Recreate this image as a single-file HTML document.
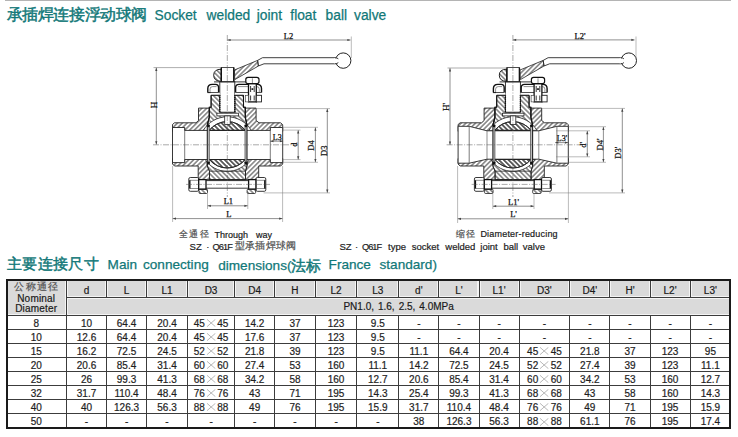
<!DOCTYPE html>
<html><head><meta charset="utf-8">
<style>
html,body{margin:0;padding:0;background:#fff;}
body{width:738px;height:437px;position:relative;overflow:hidden;font-family:"Liberation Sans",sans-serif;}
.a{position:absolute;}
.t{position:absolute;white-space:nowrap;line-height:1;}
.ln{position:absolute;background:#3c3c3c;}
.c{position:absolute;text-align:center;font-size:10px;line-height:14px;color:#1e1e1e;white-space:nowrap;-webkit-text-stroke:0.2px #1e1e1e;}
.h{position:absolute;text-align:center;font-size:10px;color:#1a1a1a;white-space:nowrap;-webkit-text-stroke:0.2px #1a1a1a;}
svg{position:absolute;left:0;top:0;}
svg.x{position:static;display:inline-block;vertical-align:-0.5px;}
</style></head><body>

<div class="a" style="left:5px;top:0;width:726px;height:1px;background:#b4b4b4"></div>
<div class="t" style="left:6.5px;top:7px;font-size:15.6px;letter-spacing:-0.4px;-webkit-text-stroke:0.45px #117878;color:#117878;">承插焊连接浮动球阀</div>
<div class="t" style="left:154.5px;top:9px;font-size:13.8px;color:#117878;-webkit-text-stroke:0.25px #117878;">Socket</div>
<div class="t" style="left:206.5px;top:9px;font-size:13.8px;color:#117878;-webkit-text-stroke:0.25px #117878;">welded</div>
<div class="t" style="left:256.7px;top:9px;font-size:13.8px;color:#117878;-webkit-text-stroke:0.25px #117878;">joint</div>
<div class="t" style="left:290.3px;top:9px;font-size:13.8px;color:#117878;-webkit-text-stroke:0.25px #117878;">float</div>
<div class="t" style="left:325.6px;top:9px;font-size:13.8px;color:#117878;-webkit-text-stroke:0.25px #117878;">ball</div>
<div class="t" style="left:354px;top:9px;font-size:13.8px;color:#117878;-webkit-text-stroke:0.25px #117878;">valve</div>
<div class="t" style="left:6.8px;top:256px;font-size:15.4px;letter-spacing:0.4px;-webkit-text-stroke:0.45px #117878;color:#117878;">主要连接尺寸</div>
<div class="t" style="left:107.6px;top:257.6px;font-size:13.6px;color:#117878;-webkit-text-stroke:0.25px #117878;">Main</div>
<div class="t" style="left:143px;top:257.6px;font-size:13.6px;color:#117878;-webkit-text-stroke:0.25px #117878;">connecting</div>
<div class="t" style="left:218.2px;top:257.6px;font-size:13.6px;color:#117878;-webkit-text-stroke:0.25px #117878;">dimensions(<span style="font-size:15.4px;letter-spacing:-0.2px;-webkit-text-stroke:0.45px #117878;color:#117878;vertical-align:-1px">法标</span></div>
<div class="t" style="left:328.6px;top:257.6px;font-size:13.6px;color:#117878;-webkit-text-stroke:0.25px #117878;">France</div>
<div class="t" style="left:379.5px;top:257.6px;font-size:13.6px;color:#117878;-webkit-text-stroke:0.25px #117878;">standard)</div>
<div class="t" style="left:179px;top:229.4px;font-size:9.5px;color:#555;-webkit-text-stroke:0.2px #555;"><span style="font-size:9px;letter-spacing:1.3px;color:#4a4a4a">全通径</span></div>
<div class="t" style="left:214.6px;top:230.8px;font-size:9px;color:#1a1a1a;-webkit-text-stroke:0.2px #1a1a1a;">Through</div>
<div class="t" style="left:256px;top:230.8px;font-size:9px;color:#1a1a1a;-webkit-text-stroke:0.2px #1a1a1a;">way</div>
<div class="t" style="left:189.6px;top:242.4px;font-size:9.5px;color:#222;-webkit-text-stroke:0.2px #222;">SZ</div>
<div class="t" style="left:206.3px;top:242.4px;font-size:9.5px;color:#222;-webkit-text-stroke:0.2px #222;">·</div>
<div class="t" style="left:212.5px;top:242.4px;font-size:9.5px;color:#222;-webkit-text-stroke:0.2px #222;"><span style="letter-spacing:-0.9px;font-size:9.2px">Q61F</span></div>
<div class="t" style="left:235px;top:241.2px;font-size:9.5px;color:#555;-webkit-text-stroke:0.2px #555;"><span style="font-size:9px;letter-spacing:1.3px;color:#4a4a4a;font-size:9.5px;letter-spacing:0.2px">型承插焊球阀</span></div>
<div class="t" style="left:455.8px;top:229.4px;font-size:9.5px;color:#555;-webkit-text-stroke:0.2px #555;"><span style="font-size:9px;letter-spacing:1.3px;color:#4a4a4a">缩径</span></div>
<div class="t" style="left:480.4px;top:230.3px;font-size:9px;color:#1a1a1a;-webkit-text-stroke:0.2px #1a1a1a;letter-spacing:0.2px">Diameter-reducing</div>
<div class="t" style="left:339.5px;top:242.4px;font-size:9.5px;color:#222;-webkit-text-stroke:0.2px #222;">SZ</div>
<div class="t" style="left:355px;top:242.4px;font-size:9.5px;color:#222;-webkit-text-stroke:0.2px #222;">·</div>
<div class="t" style="left:361.9px;top:242.4px;font-size:9.5px;color:#222;-webkit-text-stroke:0.2px #222;"><span style="letter-spacing:-0.9px;font-size:9.2px">Q61F</span></div>
<div class="t" style="left:388px;top:242.4px;font-size:9.5px;color:#222;-webkit-text-stroke:0.2px #222;">type</div>
<div class="t" style="left:411.8px;top:242.4px;font-size:9.5px;color:#222;-webkit-text-stroke:0.2px #222;">socket</div>
<div class="t" style="left:445.3px;top:242.4px;font-size:9.5px;color:#222;-webkit-text-stroke:0.2px #222;">welded</div>
<div class="t" style="left:480.3px;top:242.4px;font-size:9.5px;color:#222;-webkit-text-stroke:0.2px #222;">joint</div>
<div class="t" style="left:503.4px;top:242.4px;font-size:9.5px;color:#222;-webkit-text-stroke:0.2px #222;">ball</div>
<div class="t" style="left:522.8px;top:242.4px;font-size:9.5px;color:#222;-webkit-text-stroke:0.2px #222;">valve</div>
<div class="a" style="left:6px;top:279px;width:724.7px;height:36px;background:#f4f4f4"></div>
<div class="a" style="left:7.5px;top:280.5px;width:57.5px;height:33px;background:#dadada"></div>
<div class="a" style="left:68px;top:280.5px;width:37px;height:15px;background:#dadada"></div>
<div class="a" style="left:108px;top:280.5px;width:37.1px;height:15px;background:#dadada"></div>
<div class="a" style="left:148.1px;top:280.5px;width:37.9px;height:15px;background:#dadada"></div>
<div class="a" style="left:189px;top:280.5px;width:44.1px;height:15px;background:#dadada"></div>
<div class="a" style="left:236.1px;top:280.5px;width:37.1px;height:15px;background:#dadada"></div>
<div class="a" style="left:276.2px;top:280.5px;width:37.6px;height:15px;background:#dadada"></div>
<div class="a" style="left:316.8px;top:280.5px;width:38.5px;height:15px;background:#dadada"></div>
<div class="a" style="left:358.3px;top:280.5px;width:39px;height:15px;background:#dadada"></div>
<div class="a" style="left:400.3px;top:280.5px;width:37.1px;height:15px;background:#dadada"></div>
<div class="a" style="left:440.4px;top:280.5px;width:37.1px;height:15px;background:#dadada"></div>
<div class="a" style="left:480.5px;top:280.5px;width:37.1px;height:15px;background:#dadada"></div>
<div class="a" style="left:520.6px;top:280.5px;width:47.7px;height:15px;background:#dadada"></div>
<div class="a" style="left:571.3px;top:280.5px;width:37.1px;height:15px;background:#dadada"></div>
<div class="a" style="left:611.4px;top:280.5px;width:37.2px;height:15px;background:#dadada"></div>
<div class="a" style="left:651.6px;top:280.5px;width:37px;height:15px;background:#dadada"></div>
<div class="a" style="left:691.6px;top:280.5px;width:37.6px;height:15px;background:#dadada"></div>
<div class="a" style="left:68px;top:298.5px;width:661.2px;height:15px;background:#dadada"></div>
<div class="h" style="left:66.5px;top:281.5px;width:40px;line-height:18px">d</div>
<div class="h" style="left:106.5px;top:281.5px;width:40.1px;line-height:18px">L</div>
<div class="h" style="left:146.6px;top:281.5px;width:40.9px;line-height:18px">L1</div>
<div class="h" style="left:187.5px;top:281.5px;width:47.1px;line-height:18px">D3</div>
<div class="h" style="left:234.6px;top:281.5px;width:40.1px;line-height:18px">D4</div>
<div class="h" style="left:274.7px;top:281.5px;width:40.6px;line-height:18px">H</div>
<div class="h" style="left:315.3px;top:281.5px;width:41.5px;line-height:18px">L2</div>
<div class="h" style="left:356.8px;top:281.5px;width:42px;line-height:18px">L3</div>
<div class="h" style="left:398.8px;top:281.5px;width:40.1px;line-height:18px">d'</div>
<div class="h" style="left:438.9px;top:281.5px;width:40.1px;line-height:18px">L'</div>
<div class="h" style="left:479px;top:281.5px;width:40.1px;line-height:18px">L1'</div>
<div class="h" style="left:519.1px;top:281.5px;width:50.7px;line-height:18px">D3'</div>
<div class="h" style="left:569.8px;top:281.5px;width:40.1px;line-height:18px">D4'</div>
<div class="h" style="left:609.9px;top:281.5px;width:40.2px;line-height:18px">H'</div>
<div class="h" style="left:650.1px;top:281.5px;width:40px;line-height:18px">L2'</div>
<div class="h" style="left:690.1px;top:281.5px;width:40.6px;line-height:18px">L3'</div>
<div class="h" style="left:6.6px;top:281.6px;width:60.5px;line-height:10.5px;color:#555;-webkit-text-stroke:0.2px #555;letter-spacing:1.2px;font-size:9.5px">公称通径</div>
<div class="h" style="left:6px;top:293.6px;width:60.5px;line-height:10.3px;color:#1a1a1a;letter-spacing:0.2px">Nominal<br>Diameter</div>
<div class="h" style="left:66.5px;top:298px;width:664.2px;line-height:18px;word-spacing:1.2px">PN1.0, 1.6, 2.5, 4.0MPa</div>
<div class="c" style="left:6px;top:316.5px;width:60.5px;">8</div>
<div class="c" style="left:66.5px;top:316.5px;width:40px;">10</div>
<div class="c" style="left:106.5px;top:316.5px;width:40.1px;">64.4</div>
<div class="c" style="left:146.6px;top:316.5px;width:40.9px;">20.4</div>
<div class="c" style="left:187.5px;top:316.5px;width:47.1px;">45<svg class="x" width="12.4" height="8" viewBox="0 0 12.4 8"><path d="M2,0.3 L10.4,7.7 M10.4,0.3 L2,7.7" stroke="#9a9a9a" stroke-width="0.7"/></svg>45</div>
<div class="c" style="left:234.6px;top:316.5px;width:40.1px;">14.2</div>
<div class="c" style="left:274.7px;top:316.5px;width:40.6px;">37</div>
<div class="c" style="left:315.3px;top:316.5px;width:41.5px;">123</div>
<div class="c" style="left:356.8px;top:316.5px;width:42px;">9.5</div>
<div class="c" style="left:398.8px;top:316.5px;width:40.1px;">-</div>
<div class="c" style="left:438.9px;top:316.5px;width:40.1px;">-</div>
<div class="c" style="left:479px;top:316.5px;width:40.1px;">-</div>
<div class="c" style="left:519.1px;top:316.5px;width:50.7px;">-</div>
<div class="c" style="left:569.8px;top:316.5px;width:40.1px;">-</div>
<div class="c" style="left:609.9px;top:316.5px;width:40.2px;">-</div>
<div class="c" style="left:650.1px;top:316.5px;width:40px;">-</div>
<div class="c" style="left:690.1px;top:316.5px;width:40.6px;">-</div>
<div class="c" style="left:6px;top:330.58px;width:60.5px;">10</div>
<div class="c" style="left:66.5px;top:330.58px;width:40px;">12.6</div>
<div class="c" style="left:106.5px;top:330.58px;width:40.1px;">64.4</div>
<div class="c" style="left:146.6px;top:330.58px;width:40.9px;">20.4</div>
<div class="c" style="left:187.5px;top:330.58px;width:47.1px;">45<svg class="x" width="12.4" height="8" viewBox="0 0 12.4 8"><path d="M2,0.3 L10.4,7.7 M10.4,0.3 L2,7.7" stroke="#9a9a9a" stroke-width="0.7"/></svg>45</div>
<div class="c" style="left:234.6px;top:330.58px;width:40.1px;">17.6</div>
<div class="c" style="left:274.7px;top:330.58px;width:40.6px;">37</div>
<div class="c" style="left:315.3px;top:330.58px;width:41.5px;">123</div>
<div class="c" style="left:356.8px;top:330.58px;width:42px;">9.5</div>
<div class="c" style="left:398.8px;top:330.58px;width:40.1px;">-</div>
<div class="c" style="left:438.9px;top:330.58px;width:40.1px;">-</div>
<div class="c" style="left:479px;top:330.58px;width:40.1px;">-</div>
<div class="c" style="left:519.1px;top:330.58px;width:50.7px;">-</div>
<div class="c" style="left:569.8px;top:330.58px;width:40.1px;">-</div>
<div class="c" style="left:609.9px;top:330.58px;width:40.2px;">-</div>
<div class="c" style="left:650.1px;top:330.58px;width:40px;">-</div>
<div class="c" style="left:690.1px;top:330.58px;width:40.6px;">-</div>
<div class="c" style="left:6px;top:344.66px;width:60.5px;">15</div>
<div class="c" style="left:66.5px;top:344.66px;width:40px;">16.2</div>
<div class="c" style="left:106.5px;top:344.66px;width:40.1px;">72.5</div>
<div class="c" style="left:146.6px;top:344.66px;width:40.9px;">24.5</div>
<div class="c" style="left:187.5px;top:344.66px;width:47.1px;">52<svg class="x" width="12.4" height="8" viewBox="0 0 12.4 8"><path d="M2,0.3 L10.4,7.7 M10.4,0.3 L2,7.7" stroke="#9a9a9a" stroke-width="0.7"/></svg>52</div>
<div class="c" style="left:234.6px;top:344.66px;width:40.1px;">21.8</div>
<div class="c" style="left:274.7px;top:344.66px;width:40.6px;">39</div>
<div class="c" style="left:315.3px;top:344.66px;width:41.5px;">123</div>
<div class="c" style="left:356.8px;top:344.66px;width:42px;">9.5</div>
<div class="c" style="left:398.8px;top:344.66px;width:40.1px;">11.1</div>
<div class="c" style="left:438.9px;top:344.66px;width:40.1px;">64.4</div>
<div class="c" style="left:479px;top:344.66px;width:40.1px;">20.4</div>
<div class="c" style="left:519.1px;top:344.66px;width:50.7px;">45<svg class="x" width="12.4" height="8" viewBox="0 0 12.4 8"><path d="M2,0.3 L10.4,7.7 M10.4,0.3 L2,7.7" stroke="#9a9a9a" stroke-width="0.7"/></svg>45</div>
<div class="c" style="left:569.8px;top:344.66px;width:40.1px;">21.8</div>
<div class="c" style="left:609.9px;top:344.66px;width:40.2px;">37</div>
<div class="c" style="left:650.1px;top:344.66px;width:40px;">123</div>
<div class="c" style="left:690.1px;top:344.66px;width:40.6px;">95</div>
<div class="c" style="left:6px;top:358.74px;width:60.5px;">20</div>
<div class="c" style="left:66.5px;top:358.74px;width:40px;">20.6</div>
<div class="c" style="left:106.5px;top:358.74px;width:40.1px;">85.4</div>
<div class="c" style="left:146.6px;top:358.74px;width:40.9px;">31.4</div>
<div class="c" style="left:187.5px;top:358.74px;width:47.1px;">60<svg class="x" width="12.4" height="8" viewBox="0 0 12.4 8"><path d="M2,0.3 L10.4,7.7 M10.4,0.3 L2,7.7" stroke="#9a9a9a" stroke-width="0.7"/></svg>60</div>
<div class="c" style="left:234.6px;top:358.74px;width:40.1px;">27.4</div>
<div class="c" style="left:274.7px;top:358.74px;width:40.6px;">53</div>
<div class="c" style="left:315.3px;top:358.74px;width:41.5px;">160</div>
<div class="c" style="left:356.8px;top:358.74px;width:42px;">11.1</div>
<div class="c" style="left:398.8px;top:358.74px;width:40.1px;">14.2</div>
<div class="c" style="left:438.9px;top:358.74px;width:40.1px;">72.5</div>
<div class="c" style="left:479px;top:358.74px;width:40.1px;">24.5</div>
<div class="c" style="left:519.1px;top:358.74px;width:50.7px;">52<svg class="x" width="12.4" height="8" viewBox="0 0 12.4 8"><path d="M2,0.3 L10.4,7.7 M10.4,0.3 L2,7.7" stroke="#9a9a9a" stroke-width="0.7"/></svg>52</div>
<div class="c" style="left:569.8px;top:358.74px;width:40.1px;">27.4</div>
<div class="c" style="left:609.9px;top:358.74px;width:40.2px;">39</div>
<div class="c" style="left:650.1px;top:358.74px;width:40px;">123</div>
<div class="c" style="left:690.1px;top:358.74px;width:40.6px;">11.1</div>
<div class="c" style="left:6px;top:372.82px;width:60.5px;">25</div>
<div class="c" style="left:66.5px;top:372.82px;width:40px;">26</div>
<div class="c" style="left:106.5px;top:372.82px;width:40.1px;">99.3</div>
<div class="c" style="left:146.6px;top:372.82px;width:40.9px;">41.3</div>
<div class="c" style="left:187.5px;top:372.82px;width:47.1px;">68<svg class="x" width="12.4" height="8" viewBox="0 0 12.4 8"><path d="M2,0.3 L10.4,7.7 M10.4,0.3 L2,7.7" stroke="#9a9a9a" stroke-width="0.7"/></svg>68</div>
<div class="c" style="left:234.6px;top:372.82px;width:40.1px;">34.2</div>
<div class="c" style="left:274.7px;top:372.82px;width:40.6px;">58</div>
<div class="c" style="left:315.3px;top:372.82px;width:41.5px;">160</div>
<div class="c" style="left:356.8px;top:372.82px;width:42px;">12.7</div>
<div class="c" style="left:398.8px;top:372.82px;width:40.1px;">20.6</div>
<div class="c" style="left:438.9px;top:372.82px;width:40.1px;">85.4</div>
<div class="c" style="left:479px;top:372.82px;width:40.1px;">31.4</div>
<div class="c" style="left:519.1px;top:372.82px;width:50.7px;">60<svg class="x" width="12.4" height="8" viewBox="0 0 12.4 8"><path d="M2,0.3 L10.4,7.7 M10.4,0.3 L2,7.7" stroke="#9a9a9a" stroke-width="0.7"/></svg>60</div>
<div class="c" style="left:569.8px;top:372.82px;width:40.1px;">34.2</div>
<div class="c" style="left:609.9px;top:372.82px;width:40.2px;">53</div>
<div class="c" style="left:650.1px;top:372.82px;width:40px;">160</div>
<div class="c" style="left:690.1px;top:372.82px;width:40.6px;">12.7</div>
<div class="c" style="left:6px;top:386.9px;width:60.5px;">32</div>
<div class="c" style="left:66.5px;top:386.9px;width:40px;">31.7</div>
<div class="c" style="left:106.5px;top:386.9px;width:40.1px;">110.4</div>
<div class="c" style="left:146.6px;top:386.9px;width:40.9px;">48.4</div>
<div class="c" style="left:187.5px;top:386.9px;width:47.1px;">76<svg class="x" width="12.4" height="8" viewBox="0 0 12.4 8"><path d="M2,0.3 L10.4,7.7 M10.4,0.3 L2,7.7" stroke="#9a9a9a" stroke-width="0.7"/></svg>76</div>
<div class="c" style="left:234.6px;top:386.9px;width:40.1px;">43</div>
<div class="c" style="left:274.7px;top:386.9px;width:40.6px;">71</div>
<div class="c" style="left:315.3px;top:386.9px;width:41.5px;">195</div>
<div class="c" style="left:356.8px;top:386.9px;width:42px;">14.3</div>
<div class="c" style="left:398.8px;top:386.9px;width:40.1px;">25.4</div>
<div class="c" style="left:438.9px;top:386.9px;width:40.1px;">99.3</div>
<div class="c" style="left:479px;top:386.9px;width:40.1px;">41.3</div>
<div class="c" style="left:519.1px;top:386.9px;width:50.7px;">68<svg class="x" width="12.4" height="8" viewBox="0 0 12.4 8"><path d="M2,0.3 L10.4,7.7 M10.4,0.3 L2,7.7" stroke="#9a9a9a" stroke-width="0.7"/></svg>68</div>
<div class="c" style="left:569.8px;top:386.9px;width:40.1px;">43</div>
<div class="c" style="left:609.9px;top:386.9px;width:40.2px;">58</div>
<div class="c" style="left:650.1px;top:386.9px;width:40px;">160</div>
<div class="c" style="left:690.1px;top:386.9px;width:40.6px;">14.3</div>
<div class="c" style="left:6px;top:400.98px;width:60.5px;">40</div>
<div class="c" style="left:66.5px;top:400.98px;width:40px;">40</div>
<div class="c" style="left:106.5px;top:400.98px;width:40.1px;">126.3</div>
<div class="c" style="left:146.6px;top:400.98px;width:40.9px;">56.3</div>
<div class="c" style="left:187.5px;top:400.98px;width:47.1px;">88<svg class="x" width="12.4" height="8" viewBox="0 0 12.4 8"><path d="M2,0.3 L10.4,7.7 M10.4,0.3 L2,7.7" stroke="#9a9a9a" stroke-width="0.7"/></svg>88</div>
<div class="c" style="left:234.6px;top:400.98px;width:40.1px;">49</div>
<div class="c" style="left:274.7px;top:400.98px;width:40.6px;">76</div>
<div class="c" style="left:315.3px;top:400.98px;width:41.5px;">195</div>
<div class="c" style="left:356.8px;top:400.98px;width:42px;">15.9</div>
<div class="c" style="left:398.8px;top:400.98px;width:40.1px;">31.7</div>
<div class="c" style="left:438.9px;top:400.98px;width:40.1px;">110.4</div>
<div class="c" style="left:479px;top:400.98px;width:40.1px;">48.4</div>
<div class="c" style="left:519.1px;top:400.98px;width:50.7px;">76<svg class="x" width="12.4" height="8" viewBox="0 0 12.4 8"><path d="M2,0.3 L10.4,7.7 M10.4,0.3 L2,7.7" stroke="#9a9a9a" stroke-width="0.7"/></svg>76</div>
<div class="c" style="left:569.8px;top:400.98px;width:40.1px;">49</div>
<div class="c" style="left:609.9px;top:400.98px;width:40.2px;">71</div>
<div class="c" style="left:650.1px;top:400.98px;width:40px;">195</div>
<div class="c" style="left:690.1px;top:400.98px;width:40.6px;">15.9</div>
<div class="c" style="left:6px;top:415.06px;width:60.5px;">50</div>
<div class="c" style="left:66.5px;top:415.06px;width:40px;">-</div>
<div class="c" style="left:106.5px;top:415.06px;width:40.1px;">-</div>
<div class="c" style="left:146.6px;top:415.06px;width:40.9px;">-</div>
<div class="c" style="left:187.5px;top:415.06px;width:47.1px;">-</div>
<div class="c" style="left:234.6px;top:415.06px;width:40.1px;">-</div>
<div class="c" style="left:274.7px;top:415.06px;width:40.6px;">-</div>
<div class="c" style="left:315.3px;top:415.06px;width:41.5px;">-</div>
<div class="c" style="left:356.8px;top:415.06px;width:42px;">-</div>
<div class="c" style="left:398.8px;top:415.06px;width:40.1px;">38</div>
<div class="c" style="left:438.9px;top:415.06px;width:40.1px;">126.3</div>
<div class="c" style="left:479px;top:415.06px;width:40.1px;">56.3</div>
<div class="c" style="left:519.1px;top:415.06px;width:50.7px;">88<svg class="x" width="12.4" height="8" viewBox="0 0 12.4 8"><path d="M2,0.3 L10.4,7.7 M10.4,0.3 L2,7.7" stroke="#9a9a9a" stroke-width="0.7"/></svg>88</div>
<div class="c" style="left:569.8px;top:415.06px;width:40.1px;">61.1</div>
<div class="c" style="left:609.9px;top:415.06px;width:40.2px;">76</div>
<div class="c" style="left:650.1px;top:415.06px;width:40px;">195</div>
<div class="c" style="left:690.1px;top:415.06px;width:40.6px;">17.4</div>
<div class="ln" style="left:66.5px;top:296.5px;width:664.2px;height:1px"></div>
<div class="ln" style="left:6px;top:314.5px;width:724.7px;height:1px"></div>
<div class="ln" style="left:6px;top:328.58px;width:724.7px;height:1px"></div>
<div class="ln" style="left:6px;top:342.66px;width:724.7px;height:1px"></div>
<div class="ln" style="left:6px;top:356.74px;width:724.7px;height:1px"></div>
<div class="ln" style="left:6px;top:370.82px;width:724.7px;height:1px"></div>
<div class="ln" style="left:6px;top:384.9px;width:724.7px;height:1px"></div>
<div class="ln" style="left:6px;top:398.98px;width:724.7px;height:1px"></div>
<div class="ln" style="left:6px;top:413.06px;width:724.7px;height:1px"></div>
<div class="ln" style="left:66px;top:279px;width:1px;height:148.6px"></div>
<div class="ln" style="left:106px;top:279px;width:1px;height:18px"></div>
<div class="ln" style="left:106px;top:315px;width:1px;height:112.6px"></div>
<div class="ln" style="left:146.1px;top:279px;width:1px;height:18px"></div>
<div class="ln" style="left:146.1px;top:315px;width:1px;height:112.6px"></div>
<div class="ln" style="left:187px;top:279px;width:1px;height:18px"></div>
<div class="ln" style="left:187px;top:315px;width:1px;height:112.6px"></div>
<div class="ln" style="left:234.1px;top:279px;width:1px;height:18px"></div>
<div class="ln" style="left:234.1px;top:315px;width:1px;height:112.6px"></div>
<div class="ln" style="left:274.2px;top:279px;width:1px;height:18px"></div>
<div class="ln" style="left:274.2px;top:315px;width:1px;height:112.6px"></div>
<div class="ln" style="left:314.8px;top:279px;width:1px;height:18px"></div>
<div class="ln" style="left:314.8px;top:315px;width:1px;height:112.6px"></div>
<div class="ln" style="left:356.3px;top:279px;width:1px;height:18px"></div>
<div class="ln" style="left:356.3px;top:315px;width:1px;height:112.6px"></div>
<div class="ln" style="left:398.3px;top:279px;width:1px;height:18px"></div>
<div class="ln" style="left:398.3px;top:315px;width:1px;height:112.6px"></div>
<div class="ln" style="left:438.4px;top:279px;width:1px;height:18px"></div>
<div class="ln" style="left:438.4px;top:315px;width:1px;height:112.6px"></div>
<div class="ln" style="left:478.5px;top:279px;width:1px;height:18px"></div>
<div class="ln" style="left:478.5px;top:315px;width:1px;height:112.6px"></div>
<div class="ln" style="left:518.6px;top:279px;width:1px;height:18px"></div>
<div class="ln" style="left:518.6px;top:315px;width:1px;height:112.6px"></div>
<div class="ln" style="left:569.3px;top:279px;width:1px;height:18px"></div>
<div class="ln" style="left:569.3px;top:315px;width:1px;height:112.6px"></div>
<div class="ln" style="left:609.4px;top:279px;width:1px;height:18px"></div>
<div class="ln" style="left:609.4px;top:315px;width:1px;height:112.6px"></div>
<div class="ln" style="left:649.6px;top:279px;width:1px;height:18px"></div>
<div class="ln" style="left:649.6px;top:315px;width:1px;height:112.6px"></div>
<div class="ln" style="left:689.6px;top:279px;width:1px;height:18px"></div>
<div class="ln" style="left:689.6px;top:315px;width:1px;height:112.6px"></div>
<div class="a" style="left:6px;top:279px;width:725px;height:150px;border:2px solid #1a1a1a;box-sizing:border-box"></div>
<svg width="738" height="437" viewBox="0 0 738 437"><defs>
<pattern id="hA" patternUnits="userSpaceOnUse" width="3.4" height="3.4" patternTransform="rotate(45)"><line x1="1.7" y1="0" x2="1.7" y2="3.4" stroke="#333" stroke-width="0.95"/></pattern>
<pattern id="hB" patternUnits="userSpaceOnUse" width="3.4" height="3.4" patternTransform="rotate(-45)"><line x1="1.7" y1="0" x2="1.7" y2="3.4" stroke="#333" stroke-width="0.95"/></pattern>
</defs><polygon points="172.5,124.5 174.5,122.8 196,122.8 198.5,120.5 198.5,108.1 209.3,108.1 209.3,117.3 207.3,125 207.3,131.4 172.5,131.4" fill="url(#hA)" stroke="#222" stroke-width="0.9" stroke-linejoin="round"/><polygon points="282.7,124.8 280.7,122.8 259,122.8 256.1,120.5 256.1,108.1 245.3,108.1 245.3,117.3 247,125 247,131.4 282.7,131.4" fill="url(#hA)" stroke="#222" stroke-width="0.9" stroke-linejoin="round"/><polygon points="172.5,158.5 207.3,158.5 207.3,166 209.5,171.2 209.5,179.7 245.5,179.7 245.5,171.2 247,166 247,158.5 282.7,158.5 282.7,164 280.7,166 258.7,166 258.7,179.7 198.2,179.7 198.2,166 174.5,166 172.5,164" fill="url(#hA)" stroke="#222" stroke-width="0.9" stroke-linejoin="round"/><polygon points="211.1,95.3 219.8,95.3 219.8,112.2 234.8,112.2 234.8,95.3 243.5,95.3 243.5,107.2 245.3,107.2 245.3,117.3 247,125 247,130.4 207.3,130.4 207.3,125 209.3,117.3 209.3,107.2 211.1,107.2" fill="url(#hB)" stroke="#222" stroke-width="0.8" stroke-linejoin="round"/><polygon points="207.3,159.5 247,159.5 247,166 245.5,171.2 245.5,179.7 209.5,179.7 209.5,171.2 207.3,166" fill="url(#hB)" stroke="#222" stroke-width="0.8" stroke-linejoin="round"/><polygon points="172.5,127.5 184.7,127.5 184.7,130.4 270.3,130.4 270.3,127.5 282.7,127.5 282.7,162.6 270.3,162.6 270.3,159.5 184.7,159.5 184.7,162.6 172.5,162.6" fill="#fff" stroke="#222" stroke-width="0.9" stroke-linejoin="round"/><line x1="184.7" y1="127.5" x2="184.7" y2="162.6" stroke="#444" stroke-width="0.7" /><line x1="270.3" y1="127.5" x2="270.3" y2="162.6" stroke="#444" stroke-width="0.7" /><path d="M203.29,130.4 A28,28 0 0 1 251.31,130.4 L245.49,130.4 A23.2,23.2 0 0 0 209.11,130.4 Z" fill="#fff" stroke="#222" stroke-width="0.8" /><path d="M209.11,130.4 A23.2,23.2 0 0 1 245.49,130.4 Z" fill="url(#hB)" stroke="#222" stroke-width="0.9" /><path d="M205.13,159.5 A26.6,26.6 0 0 0 249.47,159.5 L245.25,159.5 A23.2,23.2 0 0 1 209.35,159.5 Z" fill="#fff" stroke="#222" stroke-width="0.8" /><path d="M209.35,159.5 A23.2,23.2 0 0 0 245.25,159.5 Z" fill="url(#hB)" stroke="#222" stroke-width="0.9" /><line x1="209.5" y1="171.2" x2="245.5" y2="171.2" stroke="#222" stroke-width="0.7" /><line x1="207.3" y1="130.4" x2="247" y2="130.4" stroke="#222" stroke-width="0.8" /><line x1="207.3" y1="159.5" x2="247" y2="159.5" stroke="#222" stroke-width="0.8" /><rect x="216.9" y="113.2" width="21.5" height="2.7" rx="0" fill="#fff" stroke="#222" stroke-width="0.8"/><rect x="224.7" y="115.9" width="5.5" height="8.6" rx="0" fill="#fff" stroke="#222" stroke-width="0.8"/><rect x="207.3" y="126" width="2" height="38" rx="0" fill="#c8c8c8" stroke="none" stroke-width="0"/><line x1="207.3" y1="125" x2="207.3" y2="165" stroke="#222" stroke-width="1.1" /><line x1="209.3" y1="127" x2="209.3" y2="163" stroke="#333" stroke-width="0.7" /><circle cx="208.5" cy="125.8" r="1.5" fill="#111"/><circle cx="208.5" cy="162.9" r="1.5" fill="#111"/><rect x="245" y="126" width="2" height="38" rx="0" fill="#c8c8c8" stroke="none" stroke-width="0"/><line x1="247" y1="125" x2="247" y2="165" stroke="#222" stroke-width="1.1" /><line x1="245" y1="127" x2="245" y2="163" stroke="#333" stroke-width="0.7" /><circle cx="245.8" cy="125.8" r="1.5" fill="#111"/><circle cx="245.8" cy="162.9" r="1.5" fill="#111"/><rect x="219.8" y="81.7" width="15" height="30.5" rx="0" fill="#fff" stroke="#222" stroke-width="0.9"/><line x1="219.8" y1="95" x2="219.8" y2="112" stroke="#111" stroke-width="1.3" stroke-dasharray="1.2,0.8"/><line x1="234.8" y1="95" x2="234.8" y2="112" stroke="#111" stroke-width="1.3" stroke-dasharray="1.2,0.8"/><path d="M207.8,92.6 L207.8,88.6 Q207.8,84.4 212.2,84.4 L215.5,84.4 Q218.6,84.4 218.6,87.8 L218.6,92.6" fill="#fff" stroke="#111" stroke-width="1.4" /><path d="M210,92.6 L210,89.2 Q210,86.6 212.6,86.6 L216.5,86.6" fill="none" stroke="#444" stroke-width="0.6" /><path d="M235.6,92.6 L235.6,87.8 Q235.6,84.4 239,84.4 L257.3,84.4 Q261.5,84.4 261.5,88.6 L261.5,92.6" fill="#fff" stroke="#111" stroke-width="1.4" /><path d="M238,86.6 L256.8,86.6 Q259.3,86.6 259.3,89.2 L259.3,92.6" fill="none" stroke="#444" stroke-width="0.6" /><line x1="207.5" y1="92.6" x2="218.8" y2="92.6" stroke="#111" stroke-width="1.0" /><line x1="235.4" y1="92.6" x2="261.8" y2="92.6" stroke="#111" stroke-width="1.0" /><rect x="210.5" y="92.8" width="9.3" height="2.5" rx="0" fill="#fff" stroke="none" stroke-width="0"/><rect x="234.8" y="92.8" width="27.7" height="2.5" rx="0" fill="#fff" stroke="none" stroke-width="0"/><path d="M219.8,95.3 L211.1,95.3 M211.1,95.3 L211.1,107.2 L209.3,107.2 L209.3,117.3 L207.3,125" fill="none" stroke="#111" stroke-width="1.1" /><path d="M234.8,95.3 L243.5,95.3 M243.5,95.3 L243.5,107.2 L245.3,107.2 L245.3,117.3 L247,125" fill="none" stroke="#111" stroke-width="1.1" /><rect x="248.5" y="83.6" width="7.8" height="18.3" rx="0" fill="#fff" stroke="#111" stroke-width="1.3"/><line x1="250.6" y1="86" x2="250.6" y2="92" stroke="#222" stroke-width="0.9" /><line x1="254.2" y1="86" x2="254.2" y2="92" stroke="#222" stroke-width="0.9" /><rect x="251.5" y="88.2" width="1.8" height="1.8" fill="#222"/><line x1="250.6" y1="95.5" x2="250.6" y2="100.5" stroke="#222" stroke-width="0.9" /><line x1="254.2" y1="95.5" x2="254.2" y2="100.5" stroke="#222" stroke-width="0.9" /><rect x="245.8" y="77.4" width="13.2" height="6.3" rx="2.2" fill="#fff" stroke="#111" stroke-width="1.2"/><line x1="252.4" y1="78.3" x2="252.4" y2="83" stroke="#444" stroke-width="0.6" /><rect x="256.3" y="95.3" width="5.2" height="6.6" rx="0" fill="#fff" stroke="#222" stroke-width="0.9"/><rect x="245.5" y="95.3" width="3" height="6.6" rx="0" fill="#fff" stroke="#333" stroke-width="0.6"/><path d="M221.3,69.2 Q213.7,69.2 213.7,75.2 Q213.7,81.3 221.3,81.3 Z" fill="url(#hB)" stroke="#222" stroke-width="1.0" /><rect x="221.3" y="67.6" width="12.5" height="14.1" rx="0" fill="#fff" stroke="#222" stroke-width="0.8"/><line x1="221.3" y1="67.6" x2="221.3" y2="81.7" stroke="#111" stroke-width="1.4" /><line x1="233.8" y1="67.6" x2="233.8" y2="81.7" stroke="#111" stroke-width="1.4" /><polygon points="234.4,70 257.6,60.4 258.4,66 234.8,79.6" fill="url(#hA)" stroke="#222" stroke-width="0.8" stroke-linejoin="round"/><path d="M257.6,60.4 L262.5,57.7 L335,57.7 M258.4,66 L264,63.8 L335,63.8" fill="none" stroke="#2a2a2a" stroke-width="0.9" /><line x1="257.6" y1="60.4" x2="258.4" y2="66" stroke="#222" stroke-width="0.8" /><circle cx="343.2" cy="60.6" r="7.7" fill="#fff" stroke="#222" stroke-width="1.0"/><rect x="334" y="58.3" width="4" height="5" fill="#fff"/><path d="M335,57.7 Q337,57.7 338.3,58.8 M335,63.8 Q337,63.8 338.3,62.6" fill="none" stroke="#222" stroke-width="0.9" /><line x1="214" y1="81.9" x2="246" y2="81.9" stroke="#222" stroke-width="0.9" /><rect x="188.8" y="177.5" width="9.9" height="13.8" rx="1.5" fill="#fff" stroke="#222" stroke-width="0.9"/><line x1="189.6" y1="180.3" x2="198.7" y2="180.3" stroke="#444" stroke-width="0.6" /><line x1="189.6" y1="188.5" x2="198.7" y2="188.5" stroke="#444" stroke-width="0.6" /><line x1="189.8" y1="180.3" x2="189.8" y2="188.5" stroke="#111" stroke-width="1.4" /><rect x="198.7" y="179.6" width="7.3" height="9.6" rx="0" fill="#fff" stroke="#111" stroke-width="1.3"/><rect x="199" y="189.2" width="8.5" height="4.3" rx="1" fill="url(#hB)" stroke="#222" stroke-width="0.8"/><rect x="255.9" y="177.5" width="9.9" height="13.8" rx="1.5" fill="#fff" stroke="#222" stroke-width="0.9"/><line x1="256.7" y1="180.3" x2="265.8" y2="180.3" stroke="#444" stroke-width="0.6" /><line x1="256.7" y1="188.5" x2="265.8" y2="188.5" stroke="#444" stroke-width="0.6" /><line x1="264.8" y1="180.3" x2="264.8" y2="188.5" stroke="#111" stroke-width="1.4" /><rect x="248.6" y="179.6" width="7.3" height="9.6" rx="0" fill="#fff" stroke="#111" stroke-width="1.3"/><rect x="247.1" y="189.2" width="8.5" height="4.3" rx="1" fill="url(#hB)" stroke="#222" stroke-width="0.8"/><line x1="206" y1="180.6" x2="248.6" y2="180.6" stroke="#222" stroke-width="0.9" /><line x1="206" y1="188.2" x2="248.6" y2="188.2" stroke="#222" stroke-width="0.9" /><line x1="227.3" y1="35" x2="227.3" y2="197" stroke="#555" stroke-width="0.5" stroke-dasharray="6,1.5,1,1.5"/><line x1="153" y1="144.8" x2="298" y2="144.8" stroke="#555" stroke-width="0.5" stroke-dasharray="6,1.5,1,1.5"/><line x1="186" y1="184.4" x2="270" y2="184.4" stroke="#555" stroke-width="0.5" stroke-dasharray="6,1.5,1,1.5"/><line x1="227.4" y1="40" x2="350.5" y2="40" stroke="#444" stroke-width="0.6" /><polygon points="227.4,40 230.6,38.9 230.6,41.1" fill="#444"/><polygon points="350.5,40 347.3,38.9 347.3,41.1" fill="#444"/><line x1="351.3" y1="36.5" x2="351.3" y2="58" stroke="#777" stroke-width="0.5" /><text x="288.6" y="38.8" font-family="Liberation Serif" font-size="8.5" fill="#111" stroke="#111" stroke-width="0.25" text-anchor="middle">L2</text><line x1="153.5" y1="67.6" x2="221" y2="67.6" stroke="#777" stroke-width="0.6" /><line x1="156.3" y1="67.8" x2="156.3" y2="144.5" stroke="#444" stroke-width="0.6" /><polygon points="156.3,67.8 155.2,71 157.4,71" fill="#444"/><polygon points="156.3,144.5 155.2,141.3 157.4,141.3" fill="#444"/><text x="156.9" y="105.1" font-family="Liberation Serif" font-size="9" fill="#111" stroke="#111" stroke-width="0.25" text-anchor="middle" transform="rotate(-90 156.9 105.1)">H</text><line x1="256.6" y1="108.6" x2="330" y2="108.6" stroke="#777" stroke-width="0.5" /><line x1="263.6" y1="192.9" x2="330" y2="192.9" stroke="#777" stroke-width="0.5" /><line x1="327.3" y1="108.8" x2="327.3" y2="192.7" stroke="#444" stroke-width="0.6" /><polygon points="327.3,108.8 326.2,112 328.4,112" fill="#444"/><polygon points="327.3,192.7 326.2,189.5 328.4,189.5" fill="#444"/><text x="327.3" y="150.7" font-family="Liberation Serif" font-size="8.5" fill="#111" stroke="#111" stroke-width="0.25" text-anchor="middle" transform="rotate(-90 327.3 150.7)">D3</text><line x1="282.7" y1="127.3" x2="318" y2="127.3" stroke="#777" stroke-width="0.5" /><line x1="282.7" y1="162.3" x2="318" y2="162.3" stroke="#777" stroke-width="0.5" /><line x1="315.4" y1="127.5" x2="315.4" y2="162.1" stroke="#444" stroke-width="0.6" /><polygon points="315.4,127.5 314.3,130.7 316.5,130.7" fill="#444"/><polygon points="315.4,162.1 314.3,158.9 316.5,158.9" fill="#444"/><text x="314.2" y="145.5" font-family="Liberation Serif" font-size="8.5" fill="#111" stroke="#111" stroke-width="0.25" text-anchor="middle" transform="rotate(-90 314.2 145.5)">D4</text><line x1="282.7" y1="130.1" x2="300.5" y2="130.1" stroke="#777" stroke-width="0.5" /><line x1="282.7" y1="159.6" x2="300.5" y2="159.6" stroke="#777" stroke-width="0.5" /><line x1="298.2" y1="130.3" x2="298.2" y2="159.4" stroke="#444" stroke-width="0.6" /><polygon points="298.2,130.3 297.1,133.5 299.3,133.5" fill="#444"/><polygon points="298.2,159.4 297.1,156.2 299.3,156.2" fill="#444"/><text x="297.4" y="144.5" font-family="Liberation Serif" font-size="8.5" fill="#111" stroke="#111" stroke-width="0.25" text-anchor="middle" transform="rotate(-90 297.4 144.5)">d</text><line x1="270.3" y1="141.2" x2="283.1" y2="141.2" stroke="#444" stroke-width="0.6" /><polygon points="270.3,141.2 273.5,140.1 273.5,142.3" fill="#444"/><polygon points="283.1,141.2 279.9,140.1 279.9,142.3" fill="#444"/><text x="277.3" y="139.8" font-family="Liberation Serif" font-size="8" fill="#111" stroke="#111" stroke-width="0.25" text-anchor="middle">L3</text><line x1="207.5" y1="193.5" x2="207.5" y2="209" stroke="#777" stroke-width="0.5" /><line x1="247.8" y1="193.5" x2="247.8" y2="209" stroke="#777" stroke-width="0.5" /><line x1="207.7" y1="205.8" x2="247.6" y2="205.8" stroke="#444" stroke-width="0.6" /><polygon points="207.7,205.8 210.9,204.7 210.9,206.9" fill="#444"/><polygon points="247.6,205.8 244.4,204.7 244.4,206.9" fill="#444"/><text x="228.4" y="204.4" font-family="Liberation Serif" font-size="8.5" fill="#111" stroke="#111" stroke-width="0.25" text-anchor="middle">L1</text><line x1="172.6" y1="166" x2="172.6" y2="222" stroke="#777" stroke-width="0.5" /><line x1="282.6" y1="166" x2="282.6" y2="222" stroke="#777" stroke-width="0.5" /><line x1="172.8" y1="218.6" x2="282.4" y2="218.6" stroke="#444" stroke-width="0.6" /><polygon points="172.8,218.6 176,217.5 176,219.7" fill="#444"/><polygon points="282.4,218.6 279.2,217.5 279.2,219.7" fill="#444"/><text x="228.8" y="217" font-family="Liberation Serif" font-size="8.5" fill="#111" stroke="#111" stroke-width="0.25" text-anchor="middle">L</text><polygon points="458.1,124.5 460.1,122.8 481.6,122.8 484.1,120.5 484.1,108.1 494.9,108.1 494.9,117.3 492.9,125 492.9,131.4 458.1,131.4" fill="url(#hA)" stroke="#222" stroke-width="0.9" stroke-linejoin="round"/><polygon points="568.3,124.8 566.3,122.8 544.6,122.8 541.7,120.5 541.7,108.1 530.9,108.1 530.9,117.3 532.6,125 532.6,131.4 568.3,131.4" fill="url(#hA)" stroke="#222" stroke-width="0.9" stroke-linejoin="round"/><polygon points="458.1,158.5 492.9,158.5 492.9,166 495.1,171.2 495.1,179.7 531.1,179.7 531.1,171.2 532.6,166 532.6,158.5 568.3,158.5 568.3,164 566.3,166 544.3,166 544.3,179.7 483.8,179.7 483.8,166 460.1,166 458.1,164" fill="url(#hA)" stroke="#222" stroke-width="0.9" stroke-linejoin="round"/><polygon points="496.7,95.3 505.4,95.3 505.4,112.2 520.4,112.2 520.4,95.3 529.1,95.3 529.1,107.2 530.9,107.2 530.9,117.3 532.6,125 532.6,130.4 492.9,130.4 492.9,125 494.9,117.3 494.9,107.2 496.7,107.2" fill="url(#hB)" stroke="#222" stroke-width="0.8" stroke-linejoin="round"/><polygon points="492.9,159.5 532.6,159.5 532.6,166 531.1,171.2 531.1,179.7 495.1,179.7 495.1,171.2 492.9,166" fill="url(#hB)" stroke="#222" stroke-width="0.8" stroke-linejoin="round"/><polygon points="458.1,126.3 469.2,126.3 487,130.8 538.8,130.8 556.9,126.3 568.3,126.3 568.3,163.2 556.9,163.2 538.8,159.2 487,159.2 469.2,163.2 458.1,163.2" fill="#fff" stroke="#222" stroke-width="0.9" stroke-linejoin="round"/><line x1="469.2" y1="126.3" x2="469.2" y2="163.2" stroke="#444" stroke-width="0.7" /><line x1="556.9" y1="126.3" x2="556.9" y2="163.2" stroke="#444" stroke-width="0.7" /><line x1="487" y1="130.8" x2="487" y2="159.2" stroke="#444" stroke-width="0.6" /><line x1="538.8" y1="130.8" x2="538.8" y2="159.2" stroke="#444" stroke-width="0.6" /><path d="M488.89,130.4 A28,28 0 0 1 536.91,130.4 L531.09,130.4 A23.2,23.2 0 0 0 494.71,130.4 Z" fill="#fff" stroke="#222" stroke-width="0.8" /><path d="M494.71,130.4 A23.2,23.2 0 0 1 531.09,130.4 Z" fill="url(#hB)" stroke="#222" stroke-width="0.9" /><path d="M490.73,159.5 A26.6,26.6 0 0 0 535.07,159.5 L530.85,159.5 A23.2,23.2 0 0 1 494.95,159.5 Z" fill="#fff" stroke="#222" stroke-width="0.8" /><path d="M494.95,159.5 A23.2,23.2 0 0 0 530.85,159.5 Z" fill="url(#hB)" stroke="#222" stroke-width="0.9" /><line x1="495.1" y1="171.2" x2="531.1" y2="171.2" stroke="#222" stroke-width="0.7" /><line x1="492.9" y1="130.4" x2="532.6" y2="130.4" stroke="#222" stroke-width="0.8" /><line x1="492.9" y1="159.5" x2="532.6" y2="159.5" stroke="#222" stroke-width="0.8" /><rect x="502.5" y="113.2" width="21.5" height="2.7" rx="0" fill="#fff" stroke="#222" stroke-width="0.8"/><rect x="510.3" y="115.9" width="5.5" height="8.6" rx="0" fill="#fff" stroke="#222" stroke-width="0.8"/><rect x="492.9" y="126" width="2" height="38" rx="0" fill="#c8c8c8" stroke="none" stroke-width="0"/><line x1="492.9" y1="125" x2="492.9" y2="165" stroke="#222" stroke-width="1.1" /><line x1="494.9" y1="127" x2="494.9" y2="163" stroke="#333" stroke-width="0.7" /><circle cx="494.1" cy="125.8" r="1.5" fill="#111"/><circle cx="494.1" cy="162.9" r="1.5" fill="#111"/><rect x="530.6" y="126" width="2" height="38" rx="0" fill="#c8c8c8" stroke="none" stroke-width="0"/><line x1="532.6" y1="125" x2="532.6" y2="165" stroke="#222" stroke-width="1.1" /><line x1="530.6" y1="127" x2="530.6" y2="163" stroke="#333" stroke-width="0.7" /><circle cx="531.4" cy="125.8" r="1.5" fill="#111"/><circle cx="531.4" cy="162.9" r="1.5" fill="#111"/><rect x="505.4" y="81.7" width="15" height="30.5" rx="0" fill="#fff" stroke="#222" stroke-width="0.9"/><line x1="505.4" y1="95" x2="505.4" y2="112" stroke="#111" stroke-width="1.3" stroke-dasharray="1.2,0.8"/><line x1="520.4" y1="95" x2="520.4" y2="112" stroke="#111" stroke-width="1.3" stroke-dasharray="1.2,0.8"/><path d="M493.4,92.6 L493.4,88.6 Q493.4,84.4 497.8,84.4 L501.1,84.4 Q504.2,84.4 504.2,87.8 L504.2,92.6" fill="#fff" stroke="#111" stroke-width="1.4" /><path d="M495.6,92.6 L495.6,89.2 Q495.6,86.6 498.2,86.6 L502.1,86.6" fill="none" stroke="#444" stroke-width="0.6" /><path d="M521.2,92.6 L521.2,87.8 Q521.2,84.4 524.6,84.4 L542.9,84.4 Q547.1,84.4 547.1,88.6 L547.1,92.6" fill="#fff" stroke="#111" stroke-width="1.4" /><path d="M523.6,86.6 L542.4,86.6 Q544.9,86.6 544.9,89.2 L544.9,92.6" fill="none" stroke="#444" stroke-width="0.6" /><line x1="493.1" y1="92.6" x2="504.4" y2="92.6" stroke="#111" stroke-width="1.0" /><line x1="521" y1="92.6" x2="547.4" y2="92.6" stroke="#111" stroke-width="1.0" /><rect x="496.1" y="92.8" width="9.3" height="2.5" rx="0" fill="#fff" stroke="none" stroke-width="0"/><rect x="520.4" y="92.8" width="27.7" height="2.5" rx="0" fill="#fff" stroke="none" stroke-width="0"/><path d="M505.4,95.3 L496.7,95.3 M496.7,95.3 L496.7,107.2 L494.9,107.2 L494.9,117.3 L492.9,125" fill="none" stroke="#111" stroke-width="1.1" /><path d="M520.4,95.3 L529.1,95.3 M529.1,95.3 L529.1,107.2 L530.9,107.2 L530.9,117.3 L532.6,125" fill="none" stroke="#111" stroke-width="1.1" /><rect x="534.1" y="83.6" width="7.8" height="18.3" rx="0" fill="#fff" stroke="#111" stroke-width="1.3"/><line x1="536.2" y1="86" x2="536.2" y2="92" stroke="#222" stroke-width="0.9" /><line x1="539.8" y1="86" x2="539.8" y2="92" stroke="#222" stroke-width="0.9" /><rect x="537.1" y="88.2" width="1.8" height="1.8" fill="#222"/><line x1="536.2" y1="95.5" x2="536.2" y2="100.5" stroke="#222" stroke-width="0.9" /><line x1="539.8" y1="95.5" x2="539.8" y2="100.5" stroke="#222" stroke-width="0.9" /><rect x="531.4" y="77.4" width="13.2" height="6.3" rx="2.2" fill="#fff" stroke="#111" stroke-width="1.2"/><line x1="538" y1="78.3" x2="538" y2="83" stroke="#444" stroke-width="0.6" /><rect x="541.9" y="95.3" width="5.2" height="6.6" rx="0" fill="#fff" stroke="#222" stroke-width="0.9"/><rect x="531.1" y="95.3" width="3" height="6.6" rx="0" fill="#fff" stroke="#333" stroke-width="0.6"/><path d="M506.9,69.2 Q499.3,69.2 499.3,75.2 Q499.3,81.3 506.9,81.3 Z" fill="url(#hB)" stroke="#222" stroke-width="1.0" /><rect x="506.9" y="67.6" width="12.5" height="14.1" rx="0" fill="#fff" stroke="#222" stroke-width="0.8"/><line x1="506.9" y1="67.6" x2="506.9" y2="81.7" stroke="#111" stroke-width="1.4" /><line x1="519.4" y1="67.6" x2="519.4" y2="81.7" stroke="#111" stroke-width="1.4" /><polygon points="520,70 543.2,60.4 544,66 520.4,79.6" fill="url(#hA)" stroke="#222" stroke-width="0.8" stroke-linejoin="round"/><path d="M543.2,60.4 L548.1,57.7 L620.6,57.7 M544,66 L549.6,63.8 L620.6,63.8" fill="none" stroke="#2a2a2a" stroke-width="0.9" /><line x1="543.2" y1="60.4" x2="544" y2="66" stroke="#222" stroke-width="0.8" /><circle cx="628.8" cy="60.6" r="7.7" fill="#fff" stroke="#222" stroke-width="1.0"/><rect x="619.6" y="58.3" width="4" height="5" fill="#fff"/><path d="M620.6,57.7 Q622.6,57.7 623.9,58.8 M620.6,63.8 Q622.6,63.8 623.9,62.6" fill="none" stroke="#222" stroke-width="0.9" /><line x1="499.6" y1="81.9" x2="531.6" y2="81.9" stroke="#222" stroke-width="0.9" /><rect x="474.4" y="177.5" width="9.9" height="13.8" rx="1.5" fill="#fff" stroke="#222" stroke-width="0.9"/><line x1="475.2" y1="180.3" x2="484.3" y2="180.3" stroke="#444" stroke-width="0.6" /><line x1="475.2" y1="188.5" x2="484.3" y2="188.5" stroke="#444" stroke-width="0.6" /><line x1="475.4" y1="180.3" x2="475.4" y2="188.5" stroke="#111" stroke-width="1.4" /><rect x="484.3" y="179.6" width="7.3" height="9.6" rx="0" fill="#fff" stroke="#111" stroke-width="1.3"/><rect x="484.6" y="189.2" width="8.5" height="4.3" rx="1" fill="url(#hB)" stroke="#222" stroke-width="0.8"/><rect x="541.5" y="177.5" width="9.9" height="13.8" rx="1.5" fill="#fff" stroke="#222" stroke-width="0.9"/><line x1="542.3" y1="180.3" x2="551.4" y2="180.3" stroke="#444" stroke-width="0.6" /><line x1="542.3" y1="188.5" x2="551.4" y2="188.5" stroke="#444" stroke-width="0.6" /><line x1="550.4" y1="180.3" x2="550.4" y2="188.5" stroke="#111" stroke-width="1.4" /><rect x="534.2" y="179.6" width="7.3" height="9.6" rx="0" fill="#fff" stroke="#111" stroke-width="1.3"/><rect x="532.7" y="189.2" width="8.5" height="4.3" rx="1" fill="url(#hB)" stroke="#222" stroke-width="0.8"/><line x1="491.6" y1="180.6" x2="534.2" y2="180.6" stroke="#222" stroke-width="0.9" /><line x1="491.6" y1="188.2" x2="534.2" y2="188.2" stroke="#222" stroke-width="0.9" /><line x1="512.9" y1="35" x2="512.9" y2="197" stroke="#555" stroke-width="0.5" stroke-dasharray="6,1.5,1,1.5"/><line x1="446.6" y1="144.8" x2="587.6" y2="144.8" stroke="#555" stroke-width="0.5" stroke-dasharray="6,1.5,1,1.5"/><line x1="471.6" y1="184.4" x2="555.6" y2="184.4" stroke="#555" stroke-width="0.5" stroke-dasharray="6,1.5,1,1.5"/><line x1="513" y1="39.9" x2="634.5" y2="39.9" stroke="#444" stroke-width="0.6" /><polygon points="513,39.9 516.2,38.8 516.2,41" fill="#444"/><polygon points="634.5,39.9 631.3,38.8 631.3,41" fill="#444"/><line x1="636" y1="36.5" x2="636" y2="58" stroke="#777" stroke-width="0.5" /><text x="580" y="38.6" font-family="Liberation Serif" font-size="8.5" fill="#111" stroke="#111" stroke-width="0.25" text-anchor="middle">L2'</text><line x1="447.5" y1="68" x2="507" y2="68" stroke="#777" stroke-width="0.6" /><line x1="450" y1="68.2" x2="450" y2="144.8" stroke="#444" stroke-width="0.6" /><polygon points="450,68.2 448.9,71.4 451.1,71.4" fill="#444"/><polygon points="450,144.8 448.9,141.6 451.1,141.6" fill="#444"/><text x="449.4" y="107" font-family="Liberation Serif" font-size="9" fill="#111" stroke="#111" stroke-width="0.25" text-anchor="middle" transform="rotate(-90 449.4 107)">H'</text><line x1="542" y1="108.4" x2="625" y2="108.4" stroke="#777" stroke-width="0.5" /><line x1="549" y1="192.9" x2="625" y2="192.9" stroke="#777" stroke-width="0.5" /><line x1="622.3" y1="108.6" x2="622.3" y2="192.7" stroke="#444" stroke-width="0.6" /><polygon points="622.3,108.6 621.2,111.8 623.4,111.8" fill="#444"/><polygon points="622.3,192.7 621.2,189.5 623.4,189.5" fill="#444"/><text x="620.6" y="152.7" font-family="Liberation Serif" font-size="8.5" fill="#111" stroke="#111" stroke-width="0.25" text-anchor="middle" transform="rotate(-90 620.6 152.7)">D3'</text><line x1="568.3" y1="126.7" x2="606" y2="126.7" stroke="#777" stroke-width="0.5" /><line x1="568.3" y1="162.3" x2="606" y2="162.3" stroke="#777" stroke-width="0.5" /><line x1="603.4" y1="126.9" x2="603.4" y2="162.1" stroke="#444" stroke-width="0.6" /><polygon points="603.4,126.9 602.3,130.1 604.5,130.1" fill="#444"/><polygon points="603.4,162.1 602.3,158.9 604.5,158.9" fill="#444"/><text x="603" y="144.5" font-family="Liberation Serif" font-size="8.5" fill="#111" stroke="#111" stroke-width="0.25" text-anchor="middle" transform="rotate(-90 603 144.5)">D4'</text><line x1="556" y1="130.8" x2="590" y2="130.8" stroke="#777" stroke-width="0.5" /><line x1="556" y1="156.8" x2="590" y2="156.8" stroke="#777" stroke-width="0.5" /><line x1="587.3" y1="131" x2="587.3" y2="156.6" stroke="#444" stroke-width="0.6" /><polygon points="587.3,131 586.2,134.2 588.4,134.2" fill="#444"/><polygon points="587.3,156.6 586.2,153.4 588.4,153.4" fill="#444"/><text x="586.5" y="144.8" font-family="Liberation Serif" font-size="8.5" fill="#111" stroke="#111" stroke-width="0.25" text-anchor="middle" transform="rotate(-90 586.5 144.8)">d'</text><line x1="555.2" y1="142.6" x2="568.1" y2="142.6" stroke="#444" stroke-width="0.6" /><polygon points="555.2,142.6 558.4,141.5 558.4,143.7" fill="#444"/><polygon points="568.1,142.6 564.9,141.5 564.9,143.7" fill="#444"/><text x="562" y="141.4" font-family="Liberation Serif" font-size="8" fill="#111" stroke="#111" stroke-width="0.25" text-anchor="middle">L3'</text><line x1="492.8" y1="193.5" x2="492.8" y2="209" stroke="#777" stroke-width="0.5" /><line x1="534" y1="193.5" x2="534" y2="209" stroke="#777" stroke-width="0.5" /><line x1="493" y1="206.2" x2="533.8" y2="206.2" stroke="#444" stroke-width="0.6" /><polygon points="493,206.2 496.2,205.1 496.2,207.3" fill="#444"/><polygon points="533.8,206.2 530.6,205.1 530.6,207.3" fill="#444"/><text x="513.5" y="204.6" font-family="Liberation Serif" font-size="8.5" fill="#111" stroke="#111" stroke-width="0.25" text-anchor="middle">L1'</text><line x1="457.6" y1="166" x2="457.6" y2="223" stroke="#777" stroke-width="0.5" /><line x1="568.4" y1="166" x2="568.4" y2="223" stroke="#777" stroke-width="0.5" /><line x1="457.8" y1="218.8" x2="568.2" y2="218.8" stroke="#444" stroke-width="0.6" /><polygon points="457.8,218.8 461,217.7 461,219.9" fill="#444"/><polygon points="568.2,218.8 565,217.7 565,219.9" fill="#444"/><text x="513.5" y="217.3" font-family="Liberation Serif" font-size="8.5" fill="#111" stroke="#111" stroke-width="0.25" text-anchor="middle">L'</text></svg>
</body></html>
